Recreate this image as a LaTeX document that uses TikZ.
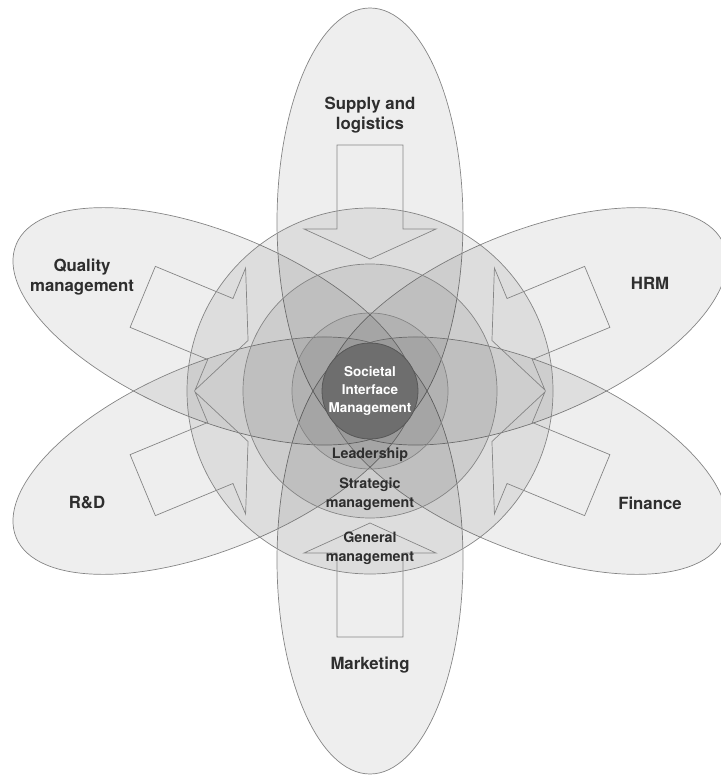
\documentclass[tikz,border=0pt]{standalone}
\usepackage{fontspec}
\setmainfont{TeX Gyre Heros}
\begin{document}
\begin{tikzpicture}[x=1pt,y=1pt,
  outline/.style={draw=black!48, line width=0.7pt},
  petal/.style={outline, fill=black, fill opacity=0.065},
  ring/.style={outline, fill=black, fill opacity=0.07},
  blockarrow/.style={outline},
  outerlabel/.style={font=\bfseries\fontsize{16.8}{20}\selectfont, text=black!82, align=center, inner sep=0pt},
  innerlabel/.style={font=\bfseries\fontsize{14.3}{19}\selectfont, text=black!82, align=center, inner sep=0pt},
  simcircle/.style={circle, minimum size=96pt, inner sep=0pt, fill=black!57, draw=black!66, line width=0.8pt, text=white, align=center, font=\bfseries\fontsize{13.5}{18}\selectfont}
]
\useasboundingbox (0,0) rectangle (720,-775);
\coordinate (c) at (370,-391);
% petals
\foreach \a in {90,270,22.5,157.5,202.5,-22.5}
  \draw[petal, shift={(370,-391)}, rotate=\a] (169,0) ellipse [x radius=214, y radius=93];
% concentric circles
\draw[ring] (c) circle[radius=183];
\draw[ring] (c) circle[radius=127];
\draw[ring] (c) circle[radius=78];
% block arrows
\foreach \a in {90,270,22.5,157.5,202.5,-22.5}
  \draw[blockarrow, shift={(370,-391)}, rotate=\a]
    (246,33) -- (162,33) -- (162,66) -- (132,0) -- (162,-66) -- (162,-33) -- (246,-33) -- cycle;
% centre
\node[simcircle] (sim) at (c) {Societal\\Interface\\Management};
% labels
\node[outerlabel] (supply) at (370,-115) {Supply and\\logistics};
\node[outerlabel] (quality) at (82,-277) {Quality\\management};
\node[outerlabel] (hrm) at (650,-283) {HRM};
\node[outerlabel] (rd) at (87,-503) {R\&D};
\node[outerlabel] (finance) at (650,-503) {Finance};
\node[outerlabel] (marketing) at (370,-665) {Marketing};
\node[innerlabel] (lead) at (370,-455) {Leadership};
\node[innerlabel] (strat) at (370,-494) {Strategic\\management};
\node[innerlabel] (gen) at (370,-548) {General\\management};
\end{tikzpicture}
\end{document}
